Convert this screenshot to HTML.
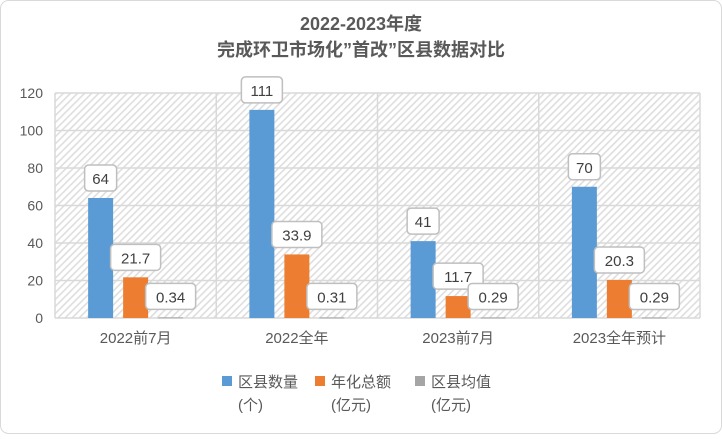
<!DOCTYPE html>
<html><head><meta charset="utf-8"><style>
body{margin:0;background:#fff;}
svg{font-family:"Liberation Sans","Noto Sans CJK SC",sans-serif;}
</style></head><body>
<svg width="722" height="434" viewBox="0 0 722 434">
<defs><pattern id="hatch" width="5" height="5" patternUnits="userSpaceOnUse" patternTransform="rotate(45)">
<rect width="5" height="5" fill="#fff"/><rect width="1.6" height="5" fill="#dedede"/></pattern></defs>
<rect x="0.5" y="0.5" width="721" height="433" rx="8" fill="#fff" stroke="#d9d9d9"/>
<text x="361" y="30" text-anchor="middle" font-size="18" font-weight="bold" fill="#595959">2022-2023年度</text>
<text x="361" y="56" text-anchor="middle" font-size="18" font-weight="bold" fill="#595959">完成环卫市场化”首改”区县数据对比</text>
<rect x="55" y="93" width="645" height="225" fill="url(#hatch)"/>
<g id="grid"></g><g id="bars"></g><g id="labels"></g>
<g font-size="15" fill="#595959">
<rect x="222" y="376" width="10" height="10" fill="#5b9bd5"/>
<text x="238" y="387">区县数量</text>
<text x="238" y="410">(个)</text>
<rect x="315" y="376" width="10" height="10" fill="#ed7d31"/>
<text x="331" y="387">年化总额</text>
<text x="331" y="410">(亿元)</text>
<rect x="415" y="376" width="10" height="10" fill="#a5a5a5"/>
<text x="431" y="387">区县均值</text>
<text x="431" y="410">(亿元)</text>
</g>
</svg>
<script>
const categories=["2022前7月","2022全年","2023前7月","2023全年预计"];
const countValues=[64,111,41,70];
const totalValues=[21.7,33.9,11.7,20.3];
const avgValues=[0.34,0.31,0.29,0.29];
const yTicks=[0,20,40,60,80,100,120];
const NS="http://www.w3.org/2000/svg";
const L=55,R=700,T=93,B=318,yMax=120;
const y=v=>B-(v/yMax)*(B-T);
const bandW=(R-L)/categories.length;
const cx=i=>L+bandW*(i+0.5);
function mk(tag,attrs,parent){const e=document.createElementNS(NS,tag);for(const k in attrs)e.setAttribute(k,attrs[k]);parent.appendChild(e);return e;}
const svg=document.querySelector('svg');
const grid=document.getElementById('grid'),bars=document.getElementById('bars'),labels=document.getElementById('labels');
yTicks.forEach(t=>{
 const ln=mk('line',{x1:L,x2:R,y1:y(t),y2:y(t),stroke:'#d9d9d9','stroke-width':1.5},grid);
 
 
 const tx=mk('text',{x:L-12,y:y(t)+5,'text-anchor':'end','font-size':14,fill:'#595959'},grid);
 tx.textContent=t;
 
 
});
for(let i=0;i<=categories.length;i++){
 const ln=mk('line',{x1:L+bandW*i,x2:L+bandW*i,y1:T,y2:B,stroke:'#d9d9d9','stroke-width':1.5},grid);
 
 
}
const series=[[countValues,'#5b9bd5','bar-count',-35],[totalValues,'#ed7d31','bar-total',0],[avgValues,'#a5a5a5','bar-avg',35]];
categories.forEach((c,i)=>{
 series.forEach(([vals,col,nm,off])=>{
  const v=vals[i];const bx=cx(i)+off-12.5;
  const r=mk('rect',{x:bx,y:y(v),width:25,height:Math.max(B-y(v),1),fill:col},bars);
  
  
  const txt=String(v);const w=txt.length*9+14;
  let lx=bx+12.5, ly=y(v)-33;
  if(nm==='bar-avg'){ly=y(v)-34;}
  const g=mk('g',{},labels);
  
  
  mk('rect',{x:lx-w/2,y:ly,width:w,height:26,rx:4,fill:'#fff',stroke:'#bfbfbf','stroke-width':1.5},g);
  const t=mk('text',{x:lx,y:ly+19,'text-anchor':'middle','font-size':15,fill:'#404040'},g);
  t.textContent=txt;
 });
 const tx=mk('text',{x:cx(i),y:343,'text-anchor':'middle','font-size':15,fill:'#595959'},svg);
 tx.textContent=c;
 
 
});
</script>
</body></html>
